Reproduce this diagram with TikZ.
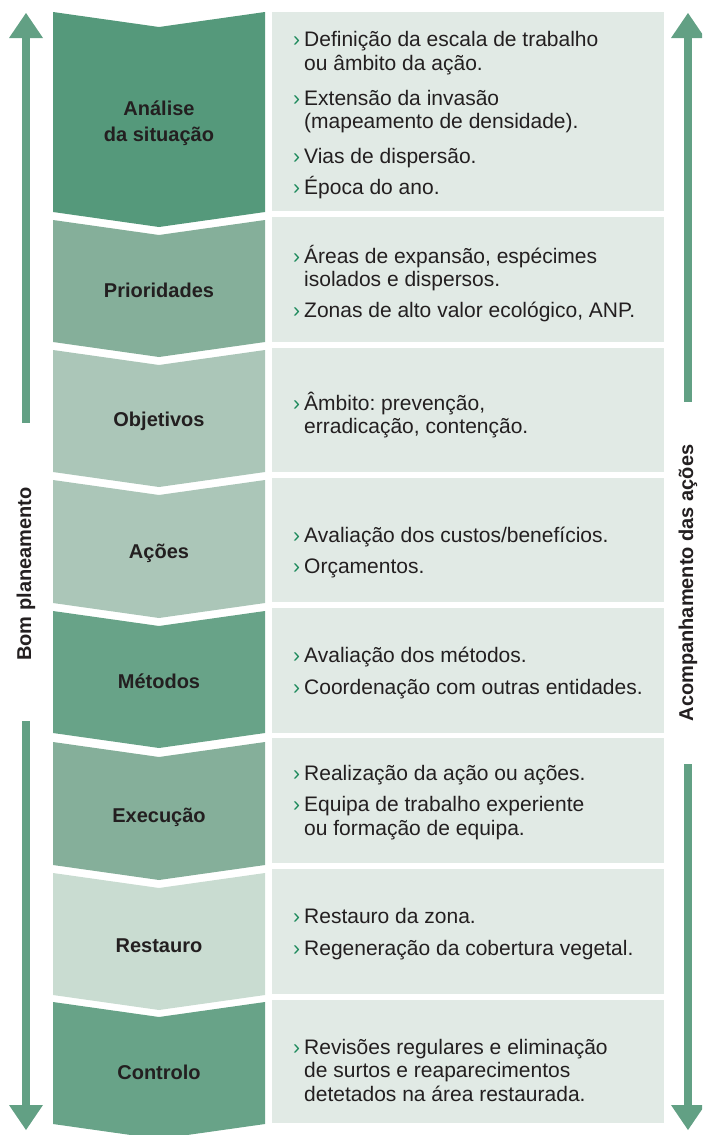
\documentclass[tikz,border=0pt]{standalone}
\usepackage{fontspec}
\setmainfont{Liberation Sans}
\usetikzlibrary{calc}
\definecolor{cA}{HTML}{55997B}
\definecolor{cB}{HTML}{85AF9A}
\definecolor{cC}{HTML}{ABC6B8}
\definecolor{cD}{HTML}{68A388}
\definecolor{cE}{HTML}{C9DCD1}
\definecolor{pan}{HTML}{E1EAE5}
\definecolor{arr}{HTML}{62A084}
\definecolor{bulc}{HTML}{1E8A5C}
\definecolor{txt}{HTML}{231F20}
\newcommand\chevblk[3]{\fill[#1] (53,#2) -- (159,{#2+15}) -- (265,#2) -- (265,#3) -- (159,{#3+15}) -- (53,#3) -- cycle;}
\newcommand\bul{\llap{\textcolor{bulc}{›}\hspace{4pt}}}
\frenchspacing
\begin{document}
\begin{tikzpicture}[x=1pt,y=-1pt,
  body/.style={anchor=base west, inner sep=0pt, font=\fontsize{21}{24}\selectfont, text=txt},
  ttl/.style={anchor=base, inner sep=0pt, font=\bfseries\fontsize{20}{24}\selectfont, text=txt},
  side/.style={inner sep=0pt, rotate=90, font=\bfseries\fontsize{20}{24}\selectfont, text=txt},
  shaft/.style={draw=arr, line width=8pt},
  head/.style={fill=arr}]
\useasboundingbox (0,0) rectangle (702,1135);
\clip (0,0) rectangle (702,1135);
% chevron blocks
\chevblk{cA}{12}{212}
\chevblk{cB}{220}{342}
\chevblk{cC}{350}{472}
\chevblk{cC}{480}{603}
\chevblk{cD}{611}{733}
\chevblk{cB}{742}{865}
\chevblk{cE}{873}{995}
\chevblk{cD}{1002}{1124}
% panels
\fill[pan] (272,12) rectangle (664,211);
\fill[pan] (272,217) rectangle (664,342);
\fill[pan] (272,348) rectangle (664,472);
\fill[pan] (272,478) rectangle (664,602);
\fill[pan] (272,608) rectangle (664,733);
\fill[pan] (272,738) rectangle (664,863);
\fill[pan] (272,869) rectangle (664,994);
\fill[pan] (272,1000) rectangle (664,1123);
% titles
\node[ttl] (t1a) at (159,115) {Análise};
\node[ttl] (t1b) at (159,141.5) {da situação};
\node[ttl] (t2) at (159,297) {Prioridades};
\node[ttl] (t3) at (159,426.5) {Objetivos};
\node[ttl] (t4) at (159,558) {Ações};
\node[ttl] (t5) at (159,688) {Métodos};
\node[ttl] (t6) at (159,822.5) {Execução};
\node[ttl] (t7) at (159,952) {Restauro};
\node[ttl] (t8) at (159,1079) {Controlo};
% panel texts
\node[body] (p1a) at (304,46.7) {\bul Definição da escala de trabalho};
\node[body] (p1b) at (304,70) {ou âmbito da ação.};
\node[body] (p1c) at (304,105) {\bul Extensão da invasão};
\node[body] (p1d) at (304,128.3) {(mapeamento de densidade).};
\node[body] (p1e) at (304,163) {\bul Vias de dispersão.};
\node[body] (p1f) at (304,194.3) {\bul Época do ano.};
\node[body] (p2a) at (304,263.3) {\bul Áreas de expansão, espécimes};
\node[body] (p2b) at (304,286.7) {isolados e dispersos.};
\node[body] (p2c) at (304,317.3) {\bul Zonas de alto valor ecológico, ANP.};
\node[body] (p3a) at (304,410) {\bul Âmbito: prevenção,};
\node[body] (p3b) at (304,433.3) {erradicação, contenção.};
\node[body] (p4a) at (304,542.3) {\bul Avaliação dos custos/benefícios.};
\node[body] (p4b) at (304,573.3) {\bul Orçamentos.};
\node[body] (p5a) at (304,662.7) {\bul Avaliação dos métodos.};
\node[body] (p5b) at (304,694) {\bul Coordenação com outras entidades.};
\node[body] (p6a) at (304,780) {\bul Realização da ação ou ações.};
\node[body] (p6b) at (304,811.7) {\bul Equipa de trabalho experiente};
\node[body] (p6c) at (304,835) {ou formação de equipa.};
\node[body] (p7a) at (304,923.3) {\bul Restauro da zona.};
\node[body] (p7b) at (304,955) {\bul Regeneração da cobertura vegetal.};
\node[body] (p8a) at (304,1054) {\bul Revisões regulares e eliminação};
\node[body] (p8b) at (304,1077.3) {de surtos e reaparecimentos};
\node[body] (p8c) at (304,1101) {detetados na área restaurada.};
% side labels
\node[side] (bp) at (26,574) {Bom planeamento};
\node[side] (aa) at (688,583) {Acompanhamento das ações};
% arrows
\coordinate (lu0) at (26,423);
\coordinate (lu1) at (26,36);
\coordinate (ld0) at (26,721);
\coordinate (ld1) at (26,1107);
\coordinate (ru0) at (688,402);
\coordinate (ru1) at (688,36);
\coordinate (rd0) at (688,764);
\coordinate (rd1) at (688,1107);
\draw[shaft] (lu0) -- (lu1);
\fill[head] ($(lu1)+(-17,2)$) -- ($(lu1)+(17,2)$) -- ($(lu1)+(0,-23)$) -- cycle;
\draw[shaft] (ld0) -- (ld1);
\fill[head] ($(ld1)+(-17,-2)$) -- ($(ld1)+(17,-2)$) -- ($(ld1)+(0,23)$) -- cycle;
\draw[shaft] (ru0) -- (ru1);
\fill[head] ($(ru1)+(-17,2)$) -- ($(ru1)+(17,2)$) -- ($(ru1)+(0,-23)$) -- cycle;
\draw[shaft] (rd0) -- (rd1);
\fill[head] ($(rd1)+(-17,-2)$) -- ($(rd1)+(17,-2)$) -- ($(rd1)+(0,23)$) -- cycle;
\end{tikzpicture}
\end{document}
